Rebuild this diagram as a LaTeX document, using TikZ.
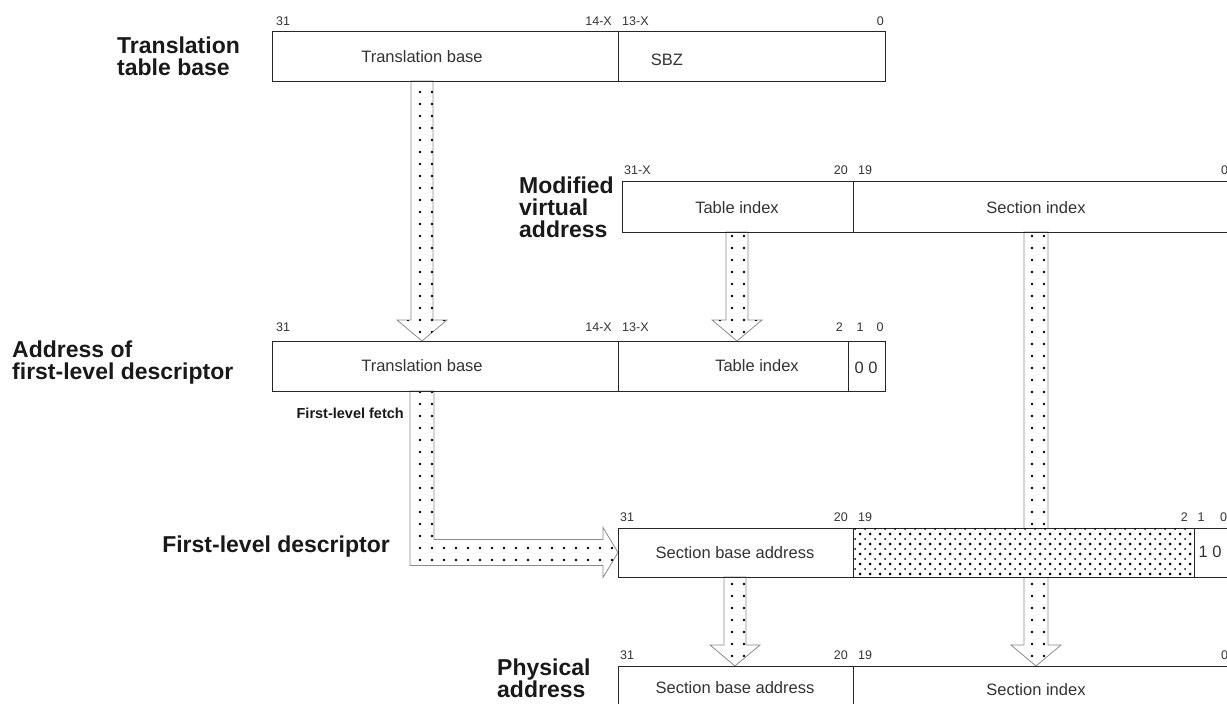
\documentclass[tikz,border=0pt]{standalone}
\usepackage{fontspec}
\setmainfont{Liberation Sans}
\usetikzlibrary{patterns.meta,calc}
\begin{document}
\begin{tikzpicture}[x=1pt,y=-1pt,
  cell/.style={draw=black!85, line width=0.9pt, fill=white, inner sep=0pt, outer sep=0pt, anchor=north west},
  ctext/.style={font=\fontsize{16.5}{16.5}\selectfont, text=black!80, inner sep=0pt},
  bit/.style={font=\fontsize{12.5}{12.5}\selectfont, text=black!80, inner sep=0pt},
  lbl/.style={font=\fontsize{23}{22}\selectfont\bfseries, text=black!90, align=left, inner sep=0pt, anchor=west},
  fat/.style={draw=black!45, line width=0.8pt, fill=white, postaction={pattern={Dots[distance=12pt,radius=1.4pt]}, pattern color=black}},
  dense/.style={fill=white, postaction={pattern={Dots[distance=10pt,radius=1.5pt]}, pattern color=black},
     postaction={pattern={Dots[distance=10pt,radius=1pt,xshift=5pt,yshift=5pt]}, pattern color=black}}
]
\useasboundingbox (0,0) rectangle (1227,704);
\clip (0,0) rectangle (1227,704);

% ---------- labels ----------
\node[lbl] (L1) at (117,56) {Translation\\table base};
\node[lbl] (L2) at (519,207) {Modified\\virtual\\address};
\node[lbl] (L3) at (12,363) {Address of\\first-level descriptor};
\node[lbl, anchor=east] (L4) at (390,547) {First-level descriptor};
\node[lbl] (L5) at (497,678) {Physical\\address};
\node[font=\fontsize{14.5}{14.5}\selectfont\bfseries, text=black!90, inner sep=0pt, anchor=east] (fetch) at (404,413) {First-level fetch};

% ---------- row 1 : translation table base ----------
\node[cell, minimum width=346, minimum height=50] (r1a) at (272,31) {};
\node[cell, minimum width=267, minimum height=50] (r1b) at (618,31) {};
\node[ctext] (t1a) at (422,57) {Translation base};
\node[ctext] (t1b) at (667,60) {SBZ};
\node[bit, anchor=west] (b1a) at (276,21) {31};
\node[bit, anchor=east] (b1b) at (612,21) {14-X};
\node[bit, anchor=west] (b1c) at (622,21) {13-X};
\node[bit, anchor=east] (b1d) at (884,21) {0};

% ---------- row 2 : modified virtual address ----------
\node[cell, minimum width=231, minimum height=51] (r2a) at (622,181) {};
\node[cell, minimum width=400, minimum height=51] (r2b) at (853,181) {};
\node[ctext] (t2a) at (737,208) {Table index};
\node[ctext] (t2b) at (1036,208) {Section index};
\node[bit, anchor=west] (b2a) at (624,170) {31-X};
\node[bit, anchor=east] (b2b) at (848,170) {20};
\node[bit, anchor=west] (b2c) at (858,170) {19};
\node[bit, anchor=west] (b2d) at (1221,170) {0};

% ---------- row 3 : address of first-level descriptor ----------
\node[cell, minimum width=346, minimum height=50] (r3a) at (272,341) {};
\node[cell, minimum width=230, minimum height=50] (r3b) at (618,341) {};
\node[cell, minimum width=37, minimum height=50] (r3c) at (848,341) {};
\node[ctext] (t3a) at (422,366) {Translation base};
\node[ctext] (t3b) at (757,366) {Table index};
\node[ctext] (t3c) at (866,368) {0 0};
\node[bit, anchor=west] (b3a) at (276,327) {31};
\node[bit, anchor=east] (b3b) at (612,327) {14-X};
\node[bit, anchor=west] (b3c) at (622,327) {13-X};
\node[bit, anchor=east] (b3d) at (843,327) {2};
\node[bit] (b3e) at (860,327) {1};
\node[bit] (b3f) at (880,327) {0};

% ---------- row 5 cells ----------
\node[cell, minimum width=235, minimum height=60] (r5a) at (618,666) {};
\node[cell, minimum width=400, minimum height=60] (r5b) at (853,666) {};
\node[ctext] (t5a) at (735,688) {Section base address};
\node[ctext] (t5b) at (1036,690) {Section index};
\node[bit, anchor=west] (b5a) at (620,655) {31};
\node[bit, anchor=east] (b5b) at (848,655) {20};
\node[bit, anchor=west] (b5c) at (858,655) {19};
\node[bit, anchor=west] (b5d) at (1221,655) {0};

% ---------- fat arrows ----------
\path[fat] let \p1=(t1a |- r1a.south), \p2=(t1a |- r3a.north) in
  (\x1-11pt,\y1) -- (\x1-11pt,\y2+21pt) -- (\x1-25pt,\y2+21pt) -- (\x2,\y2)
  -- (\x1+25pt,\y2+21pt) -- (\x1+11pt,\y2+21pt) -- (\x1+11pt,\y1) -- cycle;
\path[fat] let \p1=(t2a |- r2a.south), \p2=(t2a |- r3b.north) in
  (\x1-11pt,\y1) -- (\x1-11pt,\y2+21pt) -- (\x1-25pt,\y2+21pt) -- (\x2,\y2)
  -- (\x1+25pt,\y2+21pt) -- (\x1+11pt,\y2+21pt) -- (\x1+11pt,\y1) -- cycle;
\path[fat] let \p1=(t2b |- r2b.south), \p2=(t2b |- r5b.north) in
  (\x1-12pt,\y1) -- (\x1-12pt,\y2+21pt) -- (\x1-25pt,\y2+21pt) -- (\x2,\y2)
  -- (\x1+25pt,\y2+21pt) -- (\x1+12pt,\y2+21pt) -- (\x1+12pt,\y1) -- cycle;

% ---------- row 4 : first-level descriptor ----------
\node[cell, minimum width=235, minimum height=49] (r4a) at (618,528) {};
\node[cell, dense, minimum width=341, minimum height=49] (r4b) at (853,528) {};
\node[cell, minimum width=60, minimum height=49] (r4c) at (1194,528) {};
\node[ctext] (t4a) at (735,553) {Section base address};
\node[ctext] (t4c) at (1210,552) {1 0};
\node[bit, anchor=west] (b4a) at (620,517) {31};
\node[bit, anchor=east] (b4b) at (848,517) {20};
\node[bit, anchor=west] (b4c) at (858,517) {19};
\node[bit, anchor=east] (b4d) at (1188,517) {2};
\node[bit] (b4e) at (1201,517) {1};
\node[bit, anchor=west] (b4f) at (1220,517) {0};

% first-level fetch (L-shaped arrow)
\path[fat] let \p1=(t3a |- r3a.south), \p2=(r4a.west) in
  (\x1-12pt,\y1) -- (\x1-12pt,\y2-13pt) -- (\x2-15pt,\y2-13pt) -- (\x2-15pt,\y2-25pt)
  -- (\x2,\y2) -- (\x2-15pt,\y2+25pt) -- (\x2-15pt,\y2+13pt) -- (\x1+12pt,\y2+13pt)
  -- (\x1+12pt,\y1) -- cycle;

% section base address -> physical address
\path[fat] let \p1=(t4a |- r4a.south), \p2=(t4a |- r5a.north) in
  (\x1-11pt,\y1) -- (\x1-11pt,\y2+21pt) -- (\x1-25pt,\y2+21pt) -- (\x2,\y2)
  -- (\x1+25pt,\y2+21pt) -- (\x1+11pt,\y2+21pt) -- (\x1+11pt,\y1) -- cycle;

% redraw cell edges touched by arrows
\draw[black!85, line width=0.9pt] (r1a.south west) -- (r1a.south east);
\draw[black!85, line width=0.9pt] (r2a.south west) -- (r2a.south east) (r2b.south west) -- (r2b.south east);
\draw[black!85, line width=0.9pt] (r3a.south west) -- (r3a.south east) (r3a.north west) -- (r3a.north east) (r3b.north west) -- (r3b.north east);
\draw[black!85, line width=0.9pt] (r4a.south west) -- (r4a.south east) (r4a.north west) -- (r4a.south west);
\draw[black!85, line width=0.9pt] (r5a.north west) -- (r5a.north east) (r5b.north west) -- (r5b.north east);
\end{tikzpicture}
\end{document}
